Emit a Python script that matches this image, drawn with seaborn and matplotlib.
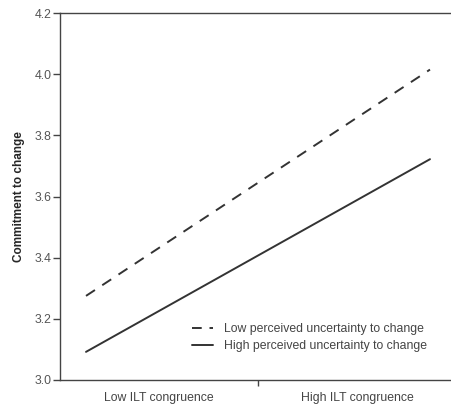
import matplotlib
matplotlib.use("Agg")
import matplotlib.pyplot as plt
import seaborn as sns
import pandas as pd

categories = ["Low ILT congruence", "High ILT congruence"]
groups = ["Low perceived uncertainty to change", "High perceived uncertainty to change"]
low_uncertainty = [3.275, 4.015]
high_uncertainty = [3.092, 3.722]
yticks = [3.0, 3.2, 3.4, 3.6, 3.8, 4.0, 4.2]

rows = []
for gi, (g, vals) in enumerate(zip(groups, [low_uncertainty, high_uncertainty])):
    for ci, v in enumerate(vals):
        rows.append({"x": ci, "y": v, "group": g})
df = pd.DataFrame(rows)

sns.set_style("white")
plt.rcParams['font.family'] = ['Liberation Sans', 'DejaVu Sans']

fig = plt.figure(figsize=(4.51, 4.08), dpi=100)
ax = fig.add_axes([60/451, 28/408, 396/451, 367/408])

sns.lineplot(data=df, x="x", y="y", style="group", style_order=groups,
             dashes={groups[0]: (5.5, 4.5), groups[1]: ""},
             color="#333333", linewidth=1.4, ax=ax, legend=True)

ax.set_xlim(-0.0756, 1.0756)
ax.set_ylim(3.0, 4.2)
ax.set_yticks(yticks)
ax.set_yticklabels([f"{t:.1f}" for t in yticks], fontsize=8.8, color="#555555")
ax.set_xticks([0.5])
ax.set_xticklabels([""])
ax.set_xticks([0.212, 0.788], minor=True)
ax.set_xticklabels(categories, minor=True, fontsize=8.8, color="#444444")
ax.tick_params(axis="x", which="minor", bottom=False, length=0, pad=9)
ax.tick_params(axis="x", which="major", bottom=True, length=4, direction="out", color="#444444", width=1)
ax.tick_params(axis="y", left=True, length=5, direction="out", color="#444444", width=1, pad=1)
ax.set_xlabel("")
ax.set_ylabel("Commitment to change", fontsize=8.5, fontweight="bold", labelpad=7)

for s in ["left", "bottom", "top"]:
    ax.spines[s].set_color("#444444")
    ax.spines[s].set_linewidth(1)
ax.spines["right"].set_visible(False)

leg = ax.legend(loc="lower right", bbox_to_anchor=(0.955, 0.045), frameon=False,
                fontsize=8.8, handlelength=1.7, handletextpad=0.9, labelspacing=0.45)
for t in leg.get_texts():
    t.set_color("#444444")
hl = leg.get_lines()
hl[0].set_linewidth(1.4)
hl[0].set_linestyle((0, (5, 4)))
hl[1].set_linewidth(1.4)
hl[1].set_linestyle("-")

fig.savefig("out.png", dpi=100)
